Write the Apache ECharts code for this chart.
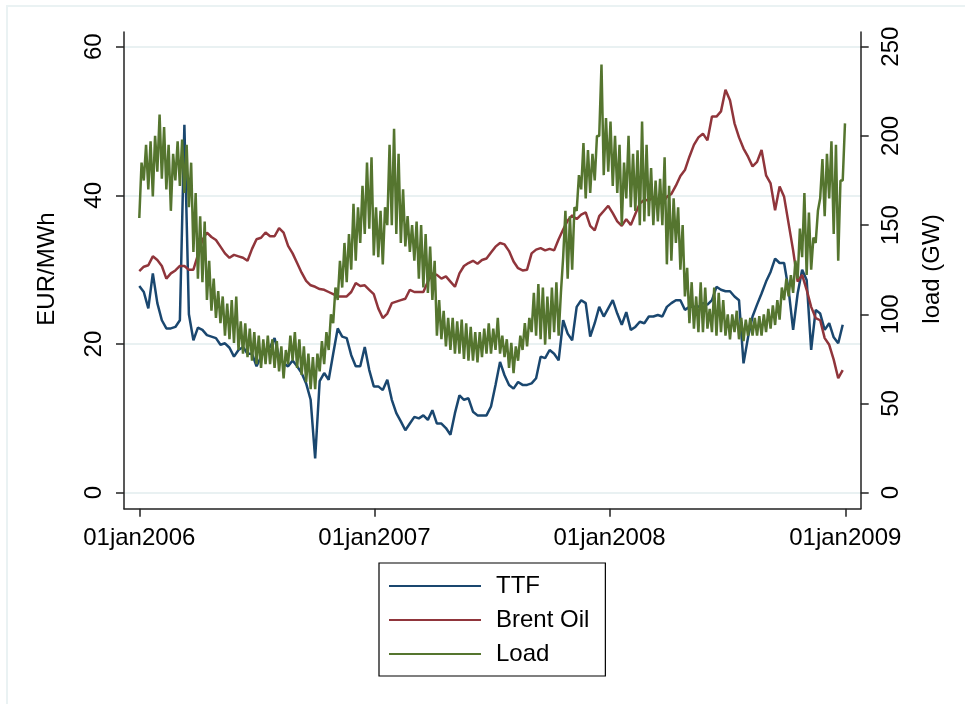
<!DOCTYPE html>
<html><head><meta charset="utf-8">
<script src="https://cdn.jsdelivr.net/npm/echarts@6/dist/echarts.min.js"></script>
<style>html,body{margin:0;padding:0;background:#fff}#c{width:965px;height:704px}</style>
</head><body><div id="c"></div>
<script>
// ---- data (weekly readings, first week starting 01jan2006) ----
const seriesNames = ['TTF', 'Brent Oil', 'Load'];
const firstYear = 2006;
const yearTicks = [2006, 2007, 2008, 2009];
const leftTicks = [0, 20, 40, 60];
const rightTicks = [0, 50, 100, 150, 200, 250];

// EUR/MWh
const ttf = [27.8,27.0,24.8,29.5,25.5,23.2,22.1,22.1,22.3,23.2,
 49.5,24.0,20.5,22.2,21.9,21.2,21.0,20.8,19.9,20.1,
 19.5,18.3,19.2,19.6,18.7,18.7,17.0,18.3,19.2,19.6,
 20.8,18.3,17.4,17.0,17.8,17.0,16.1,14.7,12.5,4.6,
 15.0,16.1,15.2,18.7,22.1,21.0,20.8,18.5,17.0,17.0,
 19.6,16.5,14.3,14.3,13.8,15.2,12.5,10.7,9.6,8.4,
 9.3,10.2,10.0,10.4,9.8,11.1,9.3,9.3,8.7,7.8,
 10.7,13.1,12.5,12.7,10.9,10.4,10.4,10.4,11.6,14.5,
 17.6,15.8,14.5,14.0,14.9,14.5,14.5,14.7,15.4,18.3,
 18.1,19.2,18.7,17.8,23.2,21.4,20.5,25.0,25.9,25.5,
 21.0,22.8,25.0,23.7,24.8,25.9,24.1,22.6,24.3,21.9,
 22.3,23.0,22.8,23.7,23.7,23.9,23.7,25.0,25.5,25.9,
 25.9,24.6,25.0,25.0,25.0,25.5,25.3,25.9,27.7,27.3,
 27.1,27.1,26.4,25.9,17.4,20.9,23.7,25.3,26.8,28.4,
 29.7,31.5,30.9,30.9,27.3,21.9,26.8,30.0,28.6,19.2,
 24.6,24.1,21.9,22.8,20.9,20.1,22.6];

// EUR/MWh
const brent = [29.8,30.4,30.6,31.8,31.3,30.5,28.8,29.5,29.9,30.5,
 30.5,30.0,30.0,32.0,34.0,35.0,34.4,34.0,33.1,32.2,
 31.6,32.0,31.8,31.6,31.2,32.8,34.1,34.3,35.0,34.5,
 34.5,35.6,35.0,33.2,32.2,30.9,29.6,28.5,27.9,27.7,
 27.4,27.3,27.0,26.7,26.4,26.4,26.4,27.0,28.2,27.8,
 27.9,27.3,26.7,24.8,23.5,24.1,25.5,25.7,25.9,26.1,
 27.3,27.0,27.0,27.0,28.4,29.5,29.3,28.8,29.1,28.4,
 27.7,29.5,30.5,30.9,31.2,30.8,31.3,31.5,32.3,33.1,
 33.6,33.4,32.5,31.1,30.2,29.9,30.0,32.2,32.7,32.9,
 32.6,32.8,32.6,34.1,35.4,36.6,37.3,36.8,37.4,37.7,
 35.9,35.3,37.2,37.9,38.6,37.6,36.5,35.9,36.8,36.0,
 37.5,38.9,39.4,39.3,39.8,39.4,38.9,39.8,40.2,41.3,
 42.6,43.4,45.2,46.8,47.8,48.3,47.4,50.6,50.6,51.3,
 54.2,52.8,49.7,47.8,46.3,45.2,43.9,44.5,46.1,42.7,
 41.6,38.0,41.2,39.8,36.2,32.6,28.4,29.3,27.3,25.0,
 23.5,23.2,20.8,19.9,17.9,15.4,16.5];

// GW, weekday level of each week
const loadWeekday = [185,195,197,200,212,205,195,190,197,198,
 195,185,168,155,152,130,120,113,110,106,
 108,110,96,95,92,90,88,86,88,86,
 85,82,80,88,90,86,82,78,76,78,
 85,90,100,115,130,140,145,162,160,172,
 185,188,160,158,160,195,204,190,170,155,
 150,152,150,145,138,130,108,102,98,98,
 96,97,95,93,90,90,92,95,92,98,
 88,86,84,82,88,95,98,112,117,115,
 110,115,118,112,158,155,160,178,196,192,
 190,200,240,210,208,200,195,185,200,190,
 192,208,195,182,175,176,188,172,165,160,
 150,126,118,110,118,115,103,115,112,108,
 100,100,102,98,97,98,98,99,100,103,
 105,108,115,120,122,130,148,168,157,143,
 158,187,190,197,195,175,207];

// GW, weekend level of each week
const loadWeekend = [154,175,170,166,180,176,170,158,175,172,
 168,160,135,120,118,108,102,98,95,88,
 86,84,80,78,76,74,72,70,72,72,
 70,68,64,72,74,70,66,62,58,58,
 68,72,80,95,108,115,118,125,130,140,
 145,148,133,132,128,150,150,145,140,138,
 135,130,120,115,112,108,88,86,82,80,
 78,78,75,74,74,73,76,78,78,80,
 78,76,70,67,74,80,82,90,88,86,
 83,86,90,88,132,120,125,158,170,165,
 168,175,200,178,180,172,168,150,165,160,
 158,150,152,155,150,152,150,128,130,140,
 125,110,95,92,90,90,92,90,88,90,
 88,86,90,86,85,88,88,88,88,90,
 92,94,97,108,110,112,120,132,122,125,
 140,165,155,165,145,130,175];

// ---- build ----
const DAY = 86400000;
const t0 = Date.UTC(firstYear, 0, 1);
const weekTime = (w, d) => t0 + (w * 7 + d) * DAY;
const ttfData = ttf.map((v, i) => [weekTime(i, 0), v]);
const brentData = brent.map((v, i) => [weekTime(i, 0), v]);
const loadData = [];
loadWeekend.forEach((v, i) => {
  loadData.push([weekTime(i, 0), v]);                 // weekend level
  loadData.push([weekTime(i, 3.5), loadWeekday[i]]);  // weekday level
});
const yearTimes = yearTicks.map(y => Date.UTC(y, 0, 1));
const xMin = yearTimes[0] - 23.75 * DAY;
const xMax = yearTimes[yearTimes.length - 1] + 23.9 * DAY;

const FONT = '"Liberation Sans", Arial, Helvetica, sans-serif';
const colors = ['#1a476f', '#90353b', '#55752f'];
const axisCol = '#222';

const chart = echarts.init(document.getElementById('c'), null, {renderer: 'canvas'});
chart.setOption({
  animation: false,
  backgroundColor: '#fff',
  color: colors,
  textStyle: {fontFamily: FONT},
  grid: [
    {left: 124, right: 104.3, top: 32, bottom: 195.3, containLabel: false, outerBoundsMode: 'none'},
    {left: 124, right: 104.3, top: 46.7, bottom: 211.3, containLabel: false, outerBoundsMode: 'none'}
  ],
  xAxis: [
    {type: 'value', gridIndex: 0, min: xMin, max: xMax, position: 'bottom',
     axisLine: {show: true, onZero: false, lineStyle: {color: axisCol, width: 1.5}},
     axisTick: {show: true, customValues: yearTimes, length: 8, lineStyle: {color: axisCol, width: 1.5}},
     axisLabel: {show: true, customValues: yearTimes, margin: 18, fontSize: 24, color: '#000', fontFamily: FONT,
       formatter: v => '01jan' + new Date(v).getUTCFullYear()},
     splitLine: {show: false}},
    {type: 'value', gridIndex: 1, min: xMin, max: xMax, show: false, splitLine: {show: false}}
  ],
  yAxis: [
    {type: 'value', gridIndex: 0, min: 0, max: 1, position: 'left',
     axisLine: {show: true, onZero: false, lineStyle: {color: axisCol, width: 1.5}},
     axisTick: {show: false}, axisLabel: {show: false}, splitLine: {show: false}},
    {type: 'value', gridIndex: 0, min: 0, max: 1, position: 'right',
     axisLine: {show: true, onZero: false, lineStyle: {color: axisCol, width: 1.5}},
     axisTick: {show: false}, axisLabel: {show: false}, splitLine: {show: false}},
    {type: 'value', gridIndex: 1, min: leftTicks[0], max: leftTicks[leftTicks.length - 1], interval: 20, position: 'left',
     axisLine: {show: false, onZero: false},
     axisTick: {show: true, length: 8, lineStyle: {color: axisCol, width: 1.5}},
     axisLabel: {show: true, rotate: 90, margin: 18, fontSize: 24, color: '#000', fontFamily: FONT},
     splitLine: {show: true, lineStyle: {color: '#e9f1f2', width: 2}}},
    {type: 'value', gridIndex: 1, min: rightTicks[0], max: rightTicks[rightTicks.length - 1], interval: 50, position: 'right',
     axisLine: {show: false, onZero: false},
     axisTick: {show: true, length: 8, lineStyle: {color: axisCol, width: 1.5}},
     axisLabel: {show: true, rotate: 90, margin: 19, fontSize: 24, color: '#000', fontFamily: FONT},
     splitLine: {show: false}}
  ],
  legend: {
    data: seriesNames, orient: 'vertical', left: 379, top: 563,
    icon: 'rect', itemWidth: 92, itemHeight: 2, itemGap: 10,
    padding: [11, 16, 10, 10], borderColor: '#000', borderWidth: 1.2,
    textStyle: {fontSize: 24, color: '#000', fontFamily: FONT, lineHeight: 24, padding: [0, 0, 0, 10]},
    selectedMode: false
  },
  graphic: [
    {type: 'rect', shape: {x: 7, y: 6, width: 1200, height: 1200}, style: {fill: 'none', stroke: '#eaf2f3', lineWidth: 2}, z: -10, silent: true},
    {type: 'text', x: 47, y: 269, rotation: Math.PI / 2,
     style: {text: 'EUR/MWh', fontSize: 24, fontFamily: FONT, fill: '#000', align: 'center', verticalAlign: 'middle'}},
    {type: 'text', x: 932, y: 269, rotation: Math.PI / 2,
     style: {text: 'load (GW)', fontSize: 24, fontFamily: FONT, fill: '#000', align: 'center', verticalAlign: 'middle'}}
  ],
  series: [
    {name: seriesNames[0], type: 'line', xAxisIndex: 1, yAxisIndex: 2, data: ttfData,
     showSymbol: false, symbol: 'none', lineStyle: {width: 2.5, color: colors[0]}, itemStyle: {color: colors[0]}},
    {name: seriesNames[1], type: 'line', xAxisIndex: 1, yAxisIndex: 2, data: brentData,
     showSymbol: false, symbol: 'none', lineStyle: {width: 2.5, color: colors[1]}, itemStyle: {color: colors[1]}},
    {name: seriesNames[2], type: 'line', xAxisIndex: 1, yAxisIndex: 3, data: loadData,
     showSymbol: false, symbol: 'none', lineStyle: {width: 2.5, color: colors[2]}, itemStyle: {color: colors[2]}}
  ]
});
</script></body></html>
